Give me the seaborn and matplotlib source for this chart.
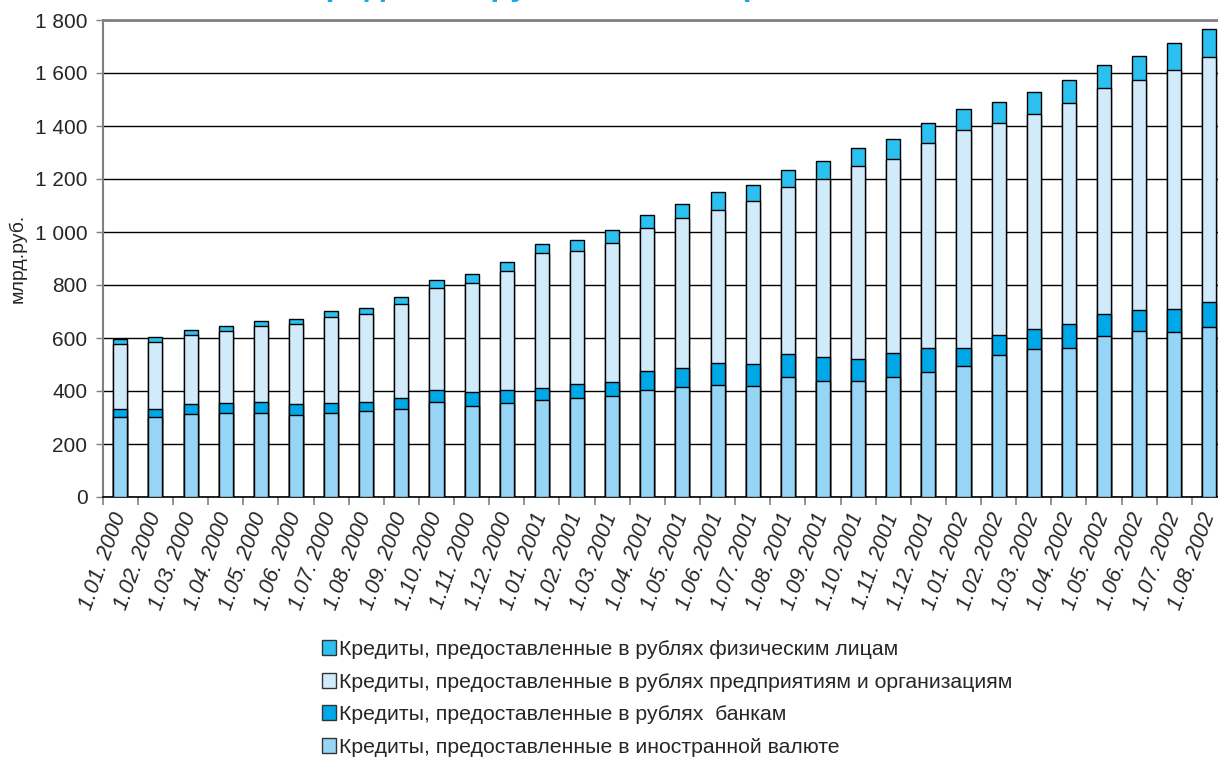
import matplotlib
matplotlib.use("Agg")
import matplotlib.pyplot as plt
import seaborn as sns
import numpy as np
import pandas as pd
from matplotlib.patches import Patch
from matplotlib.ticker import FixedLocator

# ---- data ----
dates = ["1.01. 2000", "1.02. 2000", "1.03. 2000", "1.04. 2000", "1.05. 2000", "1.06. 2000",
         "1.07. 2000", "1.08. 2000", "1.09. 2000", "1.10. 2000", "1.11. 2000", "1.12. 2000",
         "1.01. 2001", "1.02. 2001", "1.03. 2001", "1.04. 2001", "1.05. 2001", "1.06. 2001",
         "1.07. 2001", "1.08. 2001", "1.09. 2001", "1.10. 2001", "1.11. 2001", "1.12. 2001",
         "1.01. 2002", "1.02. 2002", "1.03. 2002", "1.04. 2002", "1.05. 2002", "1.06. 2002",
         "1.07. 2002", "1.08. 2002"]

foreign = [303, 303, 314, 317, 317, 311, 317, 325, 332, 357, 343, 353,
           366, 372, 382, 405, 416, 423, 420, 453, 439, 437, 452, 472,
           493, 536, 558, 563, 606, 628, 623, 640]
banks = [30, 30, 36, 36, 40, 40, 36, 35, 43, 47, 54, 51,
         47, 53, 52, 70, 70, 83, 82, 87, 89, 85, 92, 90,
         69, 76, 76, 91, 86, 77, 85, 96]
enterprises = [245, 252, 261, 273, 288, 302, 325, 331, 352, 383, 409, 448,
               506, 504, 523, 539, 565, 578, 615, 631, 672, 727, 731, 773,
               823, 798, 812, 833, 853, 869, 902, 923]
individuals = [18, 18, 19, 19, 20, 20, 23, 23, 26, 30, 34, 34,
               34, 39, 49, 51, 53, 66, 59, 62, 67, 69, 75, 78,
               79, 79, 81, 85, 87, 89, 102, 106]

series_names = ["Кредиты, предоставленные в рублях физическим лицам",
                "Кредиты, предоставленные в рублях предприятиям и организациям",
                "Кредиты, предоставленные в рублях  банкам",
                "Кредиты, предоставленные в иностранной валюте"]
yticks = [0, 200, 400, 600, 800, 1000, 1200, 1400, 1600, 1800]
ytick_labels = ["0", "200", "400", "600", "800", "1 000", "1 200", "1 400", "1 600", "1 800"]
ylabel = "млрд.руб."
title = "Кредиты в рублях и иностранной валюте"

colors = ["#2BC0F0", "#D1EBFB", "#00A8E8", "#96D5F5"]

sns.set_style("white")
plt.rcParams['font.family'] = ['Liberation Sans', 'DejaVu Sans']

df = pd.DataFrame({"date": dates, "foreign": foreign, "banks": banks,
                   "enterprises": enterprises, "individuals": individuals})
c1 = df["foreign"]
c2 = c1 + df["banks"]
c3 = c2 + df["enterprises"]
c4 = c3 + df["individuals"]

fig = plt.figure(figsize=(12.18, 7.58), dpi=100)
ax = fig.add_axes([102.7 / 1218, 1 - 497 / 758, (1227 - 102.7) / 1218, (497 - 20) / 758])

for cum, col in zip([c4, c3, c2, c1], colors):
    sns.barplot(x=df["date"], y=cum, color=col, saturation=1, width=0.4,
                edgecolor="black", linewidth=1.0, ax=ax, zorder=3)

ax.set_xlim(-0.5, len(dates) - 0.5)
ax.set_ylim(0, 1800)
ax.set_yticks(yticks)
ax.set_yticklabels(ytick_labels, fontsize=15)
ax.yaxis.grid(True, color="black", linewidth=1.0, zorder=0)
ax.set_axisbelow(True)
ax.tick_params(axis="y", length=5, width=1, color="#808080", pad=6, left=True)

ax.set_xticks(range(len(dates)))
ax.set_xticklabels(dates, rotation=70, ha="right", va="center", rotation_mode="anchor",
                   fontsize=15.5, fontstyle="italic")
ax.tick_params(axis="x", which="major", length=0, pad=12)
ax.xaxis.set_minor_locator(FixedLocator(np.arange(-0.5, len(dates), 1.0)))
ax.tick_params(axis="x", which="minor", length=6, width=1.2, color="#808080", bottom=True)

ax.set_xlabel("")
ax.set_ylabel(ylabel, fontsize=14, labelpad=6)

ax.spines["right"].set_visible(False)
ax.spines["top"].set_color("#808080")
ax.spines["top"].set_linewidth(2)
ax.spines["left"].set_color("#808080")
ax.spines["left"].set_linewidth(1.5)
ax.spines["bottom"].set_color("black")
ax.spines["bottom"].set_linewidth(1.2)

# title: in the reference only the lower edge of this line is visible at the top
fig.text(305 / 1218, 1 + 5 / 758, title, color="#1AA7E8", fontsize=24, fontweight="bold",
         ha="left", va="baseline")

handles = [Patch(facecolor=c, edgecolor="#333333", linewidth=1) for c in colors]
fig.legend(handles, series_names, loc="upper left", bbox_to_anchor=(0.264, 1 - 640 / 758),
           frameon=False, fontsize=15.3, handlelength=0.7, handleheight=0.7,
           handletextpad=0.12, labelspacing=0.64, borderpad=0, borderaxespad=0)

fig.savefig("out.png", dpi=100)
